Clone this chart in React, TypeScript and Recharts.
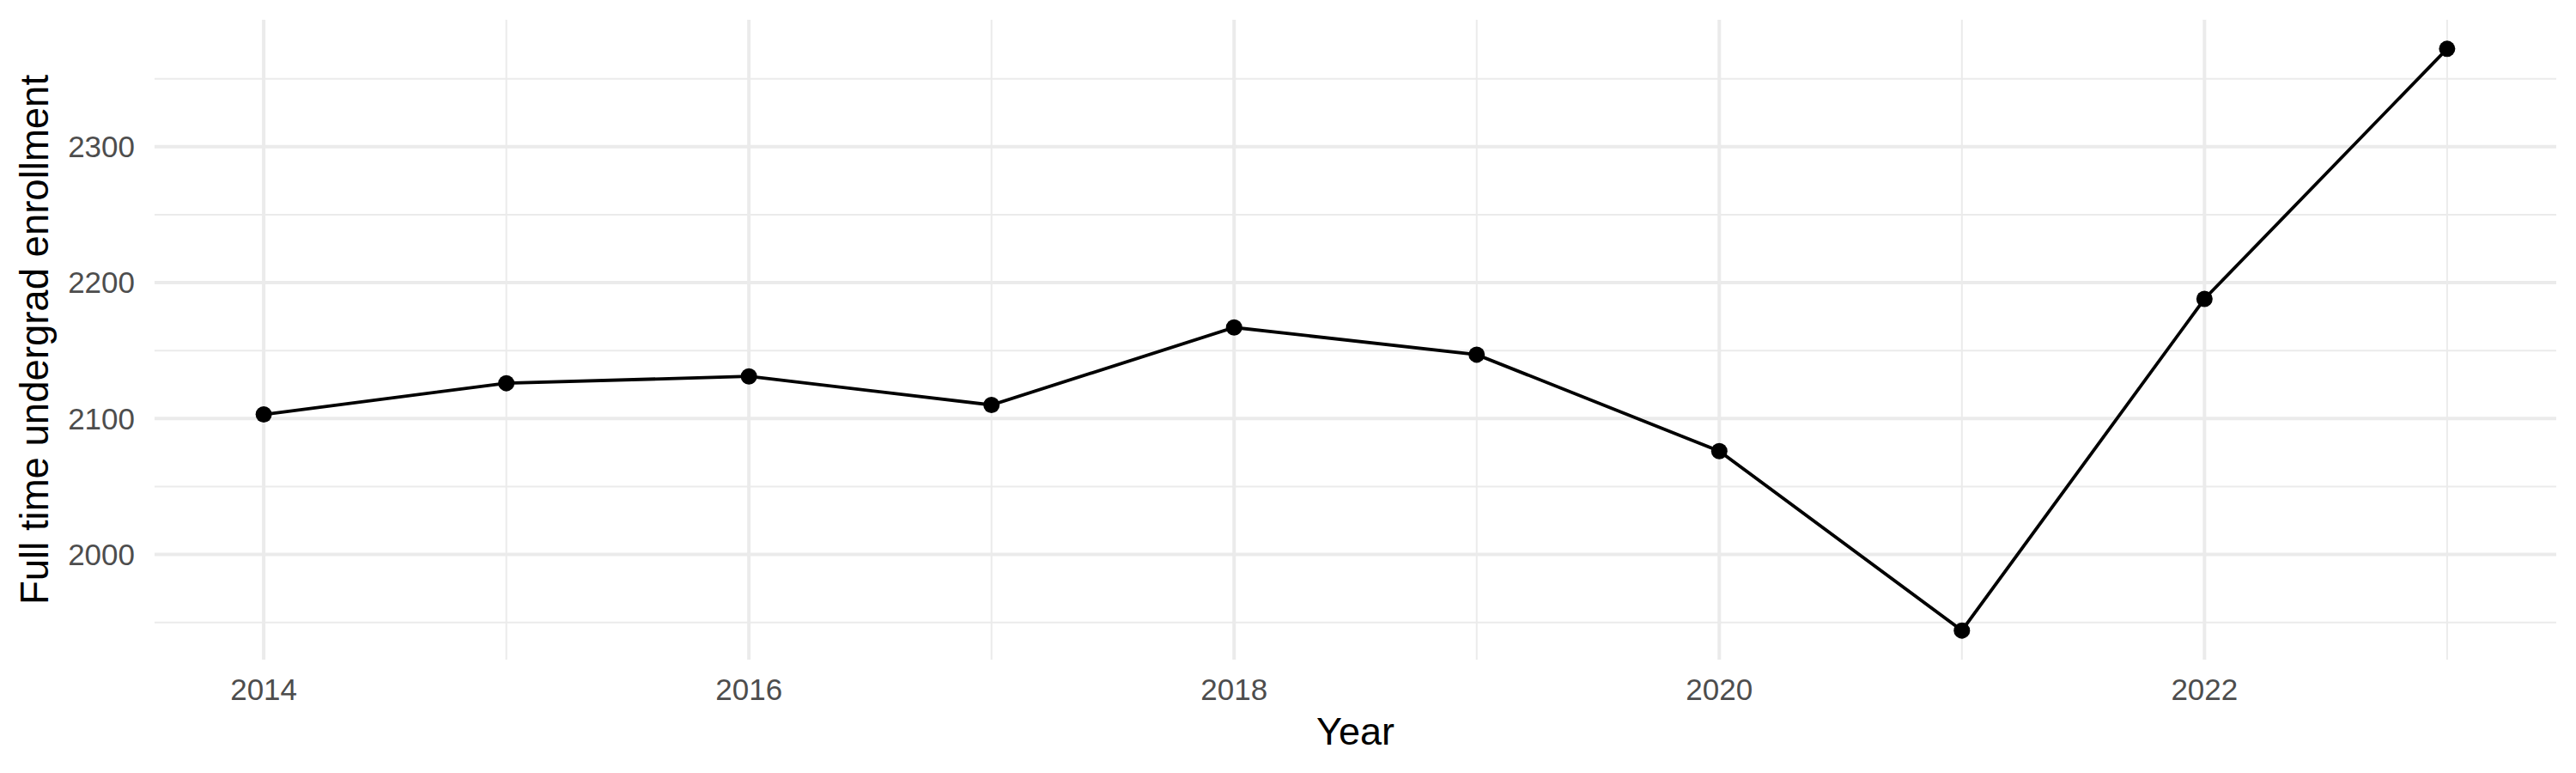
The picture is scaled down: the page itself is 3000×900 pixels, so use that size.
import * as React from "react";
import {
    LineChart,
    Line,
    XAxis,
    YAxis,
    CartesianGrid,
} from "recharts";

const years = [2014, 2015, 2016, 2017, 2018, 2019, 2020, 2021, 2022, 2023];
const enrollment = [2103, 2126, 2131, 2110, 2167, 2147, 2076, 1944, 2188, 2372];

const xMajorTicks = [2014, 2016, 2018, 2020, 2022];
const xMinorTicks = [2015, 2017, 2019, 2021, 2023];
const yMajorTicks = [2000, 2100, 2200, 2300];
const yMinorTicks = [1950, 2050, 2150, 2250, 2350];

const FONT = '"Liberation Sans", Arial, Helvetica, sans-serif';
const GRID = "#ebebeb";

function YTitle({ viewBox }: any) {
    const cy = viewBox.y + viewBox.height / 2;
    const x = 56;
    return (
        <text
            x={x}
            y={cy}
            transform={`rotate(-90 ${x} ${cy})`}
            textAnchor="middle"
            fontFamily={FONT}
            fontSize={45.5}
            fill="#000"
        >
            Full time undergrad enrollment
        </text>
    );
}

function XTitle({ viewBox }: any) {
    const cx = viewBox.x + viewBox.width / 2;
    return (
        <text x={cx} y={867} textAnchor="middle" fontFamily={FONT} fontSize={45} fill="#000">
            Year
        </text>
    );
}

export default function App() {
    const data = React.useMemo(
        () => years.map((y, i) => ({ year: y, value: enrollment[i] })),
        []
    );

    const tickStyle = { fill: "#4d4d4d", fontSize: 35, fontFamily: FONT };

    return (
        <div style={{ width: 3000, height: 900, background: "#fff" }}>
            <style>{"body{margin:0}"}</style>
            <LineChart
                width={3000}
                height={900}
                data={data}
                margin={{ top: 23, right: 23, bottom: 0, left: 0 }}
            >
                <XAxis
                    dataKey="year"
                    type="number"
                    domain={[2013.55, 2023.45]}
                    allowDataOverflow
                    ticks={xMajorTicks}
                    height={132}
                    tickLine={false}
                    axisLine={false}
                    tickSize={0}
                    tickMargin={22}
                    tick={tickStyle}
                    label={<XTitle />}
                />
                <XAxis
                    xAxisId="minor"
                    dataKey="year"
                    type="number"
                    domain={[2013.55, 2023.45]}
                    allowDataOverflow
                    ticks={xMinorTicks}
                    hide
                />
                <YAxis
                    type="number"
                    domain={[1922.6, 2393.4]}
                    allowDataOverflow
                    ticks={yMajorTicks}
                    width={180}
                    tickLine={false}
                    axisLine={false}
                    tickSize={0}
                    tickMargin={23}
                    tick={tickStyle}
                    label={<YTitle />}
                />
                <YAxis
                    yAxisId="minor"
                    type="number"
                    domain={[1922.6, 2393.4]}
                    allowDataOverflow
                    ticks={yMinorTicks}
                    hide
                />
                <CartesianGrid
                    xAxisId="minor"
                    yAxisId="minor"
                    stroke={GRID}
                    strokeWidth={2}
                    syncWithTicks
                />
                <CartesianGrid stroke={GRID} strokeWidth={4} syncWithTicks />
                <Line
                    type="linear"
                    dataKey="value"
                    stroke="#000"
                    strokeWidth={3.8}
                    dot={{ r: 9.5, fill: "#000", stroke: "none" }}
                    activeDot={false}
                    isAnimationActive={false}
                />
            </LineChart>
        </div>
    );
}
